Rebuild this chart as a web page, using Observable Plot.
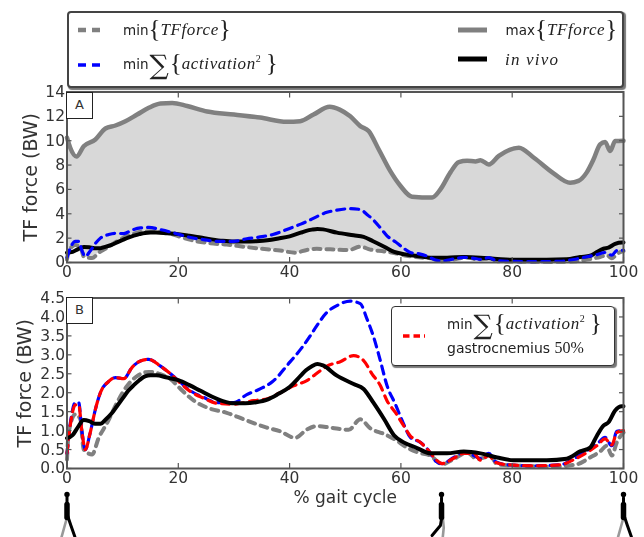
<!DOCTYPE html>
<html><head><meta charset="utf-8">
<script src="https://cdn.jsdelivr.net/npm/d3@7"></script>
<script src="https://cdn.jsdelivr.net/npm/@observablehq/plot@0.6"></script>
<style>
html,body{margin:0;padding:0;background:#fff;}
#page{position:relative;width:644px;height:537px;overflow:hidden;font-family:"DejaVu Sans",sans-serif;color:#333;filter:blur(0.55px);}
.box{position:absolute;background:#fff;box-sizing:border-box;}
.panel{position:absolute;left:66px;width:27px;height:27px;border:1.5px solid #222;background:#fff;box-sizing:border-box;text-align:center;font-size:13px;line-height:24px;}
.t{position:absolute;white-space:nowrap;font-size:13.5px;color:#222;}
.m{font-family:"Liberation Serif",serif;font-style:italic;font-size:17px;letter-spacing:.6px;}
.br{font-family:"Liberation Serif",serif;font-size:25px;font-weight:200;vertical-align:-2px;}
.sum{font-family:"DejaVu Serif",serif;font-size:27px;vertical-align:-5px;padding:0 1px;}
sup{font-size:10px;line-height:0;font-family:"Liberation Serif",serif;font-style:normal;}
</style></head><body><div id="page"></div>
<script>
const maxForce=[[0,10.25],[0.6,9.4],[1.7,8.7],[3,9.55],[5.1,10.1],[6.9,11],[8.7,11.25],[10.5,11.6],[12.6,12.15],[14.7,12.7],[16.8,13.05],[18.9,13.1],[21.6,12.85],[25.2,12.4],[30,12.15],[34.7,11.9],[39.5,11.55],[41.9,11.6],[44.3,12.15],[47.2,12.78],[49,12.55],[50.9,12],[52.7,11.2],[54.2,10.8],[56,9.3],[58.1,7.5],[59.9,6.3],[62,5.4],[65.6,5.33],[67.1,6],[68.9,7.4],[70.4,8.25],[71.9,8.36],[73.4,8.3],[74.3,8.4],[75.8,8.05],[77.6,8.75],[81.2,9.43],[83.9,8.6],[87.5,7.3],[90.4,6.55],[91.9,6.7],[93.4,7.4],[94.6,8.45],[95.8,9.7],[96.7,9.9],[97.6,9.15],[98.5,9.97],[100,10]];
const minForce=[[0,0.24],[0.3,0.95],[1.5,1.43],[2.4,1.3],[3,0.5],[4.5,0.37],[5.7,0.81],[7.2,1.2],[9,1.74],[10.8,2.18],[12.6,2.44],[14.7,2.55],[16.8,2.49],[18.6,2.36],[20.4,2.1],[22.8,1.79],[25.7,1.58],[28.7,1.47],[31.7,1.3],[35.9,1.08],[38.3,0.98],[41,0.81],[43.1,1.03],[44.9,1.12],[47.3,1.08],[50.6,1.02],[52.7,1.3],[54.5,1.06],[57,0.91],[59,0.76],[61,0.56],[63.2,0.42],[65.3,0.34],[67.4,0.11],[69.5,0.25],[71.9,0.42],[73.7,0.25],[76.1,0.32],[77.3,0.11],[81.5,0.07],[87.5,0.05],[91.6,0.11],[94,0.29],[95.8,0.45],[97,0.6],[97.9,0.34],[98.8,0.69],[100,0.95]];
const minActivation=[[0,0.4],[0.6,1.2],[1.5,1.74],[2.1,1.74],[2.7,0.95],[3.3,0.5],[4.1,0.9],[5.1,1.56],[6,2],[7.5,2.3],[8.7,2.4],[10.2,2.37],[11.7,2.67],[13.2,2.84],[14.7,2.88],[16.8,2.7],[18.6,2.5],[20.4,2.27],[22.2,2.05],[24.5,1.88],[27,1.74],[30,1.74],[32.3,1.95],[34.7,2.1],[37,2.3],[40,2.8],[42,3.15],[43.7,3.5],[44.9,3.77],[46.7,4.12],[48.5,4.3],[50.9,4.42],[52.7,4.35],[53.9,3.95],[55.1,3.47],[56.3,2.85],[57.5,2.19],[59,1.7],[60.5,1.17],[61.7,0.82],[63.5,0.69],[65,0.47],[66.2,0.2],[67.4,0.13],[69.5,0.29],[71.3,0.42],[73.1,0.34],[74.3,0.26],[75.8,0.4],[77,0.18],[79,0.1],[83.9,0.07],[88.7,0.1],[91,0.25],[93.4,0.47],[95.2,0.64],[96.7,0.82],[97.9,0.6],[98.8,0.98],[100,1]];
const minGastroc=[[0,0.4],[0.6,1.15],[1.5,1.68],[2.1,1.68],[2.7,0.95],[3.3,0.5],[4.1,0.9],[5.1,1.56],[6,2],[7.5,2.3],[8.7,2.4],[10.2,2.37],[11.7,2.67],[13.2,2.84],[14.7,2.88],[16.8,2.7],[18.6,2.5],[20.4,2.25],[22.2,2.03],[24.5,1.86],[27,1.72],[30,1.7],[33.5,1.79],[36,1.84],[38.3,2],[40.7,2.18],[43.1,2.32],[45.5,2.58],[46.7,2.7],[49.1,2.82],[51.5,2.98],[53.3,2.85],[54.8,2.5],[56.3,2.19],[57.5,1.79],[59,1.48],[60.5,1.13],[61.7,0.86],[63.5,0.69],[65,0.47],[66.2,0.25],[67.4,0.13],[69.5,0.27],[71.3,0.4],[73.1,0.4],[74.3,0.22],[75.8,0.34],[77,0.16],[79,0.1],[83.9,0.07],[88.7,0.1],[91,0.23],[93.4,0.42],[95.2,0.6],[96.7,0.78],[97.9,0.62],[98.8,0.95],[100,1]];
const inVivo=[[0,0.8],[1,0.88],[2,1.1],[3,1.28],[4,1.25],[5,1.18],[6,1.18],[7,1.3],[8,1.45],[9,1.65],[10,1.85],[11,2.05],[12,2.2],[13,2.33],[14,2.43],[15,2.46],[16,2.46],[18,2.4],[20,2.33],[22,2.2],[24,2.05],[26,1.9],[28,1.78],[30,1.72],[32,1.72],[34,1.75],[36,1.82],[38,1.97],[40,2.15],[42,2.45],[43,2.6],[44,2.7],[45,2.76],[46,2.72],[48.5,2.45],[51.5,2.23],[53.3,2.1],[55,1.75],[57,1.3],[58.8,0.87],[60.5,0.69],[62.9,0.54],[65.3,0.4],[68.3,0.4],[71.3,0.45],[74.3,0.4],[77.3,0.29],[80.2,0.22],[86.2,0.22],[89.8,0.26],[92.2,0.45],[94,0.55],[95.2,0.86],[96.4,1.13],[97.3,1.22],[98.5,1.53],[99.7,1.64],[100,1.64]];
const ticksX=[0,20,40,60,80,100];
const ticksA=[0,2,4,6,8,10,12,14];
const ticksB=[0,0.5,1,1.5,2,2.5,3,3.5,4,4.5];
const C={max:"#808080",black:"#000",blue:"#0000ff",red:"#ff0000",fill:"#d8d8d8",frame:"#555",text:"#333"};
function axes(yt,ylabel,xlab,labelDx){
  return [
    Plot.axisX({ticks:ticksX,tickSize:-5,tickPadding:8,stroke:C.frame,strokeWidth:1.2,fill:C.text,label:null}),
    Plot.axisX({anchor:"top",ticks:ticksX,tickSize:-5,stroke:C.frame,strokeWidth:1.2,label:null,tickFormat:()=>""}),
    Plot.axisY({ticks:yt,tickSize:-5,tickPadding:7,stroke:C.frame,strokeWidth:1.2,fill:C.text,label:null,tickFormat:yt===ticksB?(d=>d.toFixed(1)):(d=>d)}),
    Plot.axisY({anchor:"right",ticks:yt,tickSize:-5,stroke:C.frame,strokeWidth:1.2,label:null,tickFormat:()=>""}),
    Plot.frame({stroke:C.frame,strokeWidth:2}),
    Plot.text([ylabel],{text:d=>d,frameAnchor:"left",rotate:-90,dx:labelDx,fontSize:19,fill:C.text,lineAnchor:"middle",textAnchor:"middle"}),
    ...(xlab?[Plot.text([xlab],{text:d=>d,frameAnchor:"bottom",dy:29,fontSize:17,fill:C.text,lineAnchor:"middle"})]:[])
  ];
}
const crv="monotone-x";
const ln=(d,stroke,w,dash)=>Plot.line(d,{x:"0",y:"1",stroke,strokeWidth:w,strokeDasharray:dash,strokeLinejoin:"round",curve:crv});
const page=document.getElementById("page");
const place=(svg,top)=>{svg.style.position="absolute";svg.style.left="0";svg.style.top=top+"px";page.append(svg);};
const base={width:644,marginLeft:66.5,marginRight:21,style:{background:"transparent",fontFamily:"DejaVu Sans",fontSize:"15.5px",overflow:"visible"},x:{domain:[0,100]}};
const pA=Plot.plot({...base,height:290,marginTop:91.5,marginBottom:28,y:{domain:[0,14]},
  marks:[
    Plot.areaY(maxForce,{x:"0",y:"1",fill:C.fill,curve:crv}),
    Plot.areaY(minForce,{x:"0",y:"1",fill:"#fff",curve:crv}),
    ln(maxForce,C.max,4.5),
    ln(minForce,C.max,4,"7 6"),
    ln(inVivo,C.black,4),
    ln(minActivation,C.blue,3.2,"8 6"),
    ...axes(ticksA,"TF force (BW)",null,-36.5)
  ]});
place(pA,0);
const pB=Plot.plot({...base,height:267,marginTop:27.5,marginBottom:69,y:{domain:[0,4.5]},
  marks:[
    ln(minForce,C.max,4,"7 6"),
    ln(minActivation,C.blue,3.2,"8 6"),
    ln(minGastroc,C.red,3.2,"8 6"),
    ln(inVivo,C.black,4),
    ...axes(ticksB,"TF force (BW)","% gait cycle",-42.5)
  ]});
place(pB,270);
// walkers
const stanceAt=[0,100], swingAt=[67.3];
const stanceBlack=[[0.1,22],[0.7,12],[1.4,1]], stanceGray=[[0,20],[-0.5,10],[-1,0]];
const swingBlack=[[0.1,22],[-0.2,12],[-1.7,2]], swingGray=[[0.2,22],[0.4,10],[0.2,-1]];
const neck=[[0,40],[0,33]], torso=[[0,33],[0,20]], heads=[...stanceAt,...swingAt];
const lim=(pose,at)=>at.flatMap(a=>pose.map(p=>({x:a+p[0],y:p[1],k:a})));
const pW=Plot.plot({width:644,height:46,marginLeft:66.5,marginRight:21,marginTop:0,marginBottom:0,
  style:{background:"transparent",overflow:"visible"},
  x:{domain:[0,100],axis:null},y:{domain:[0,46],axis:null},
  marks:[
    Plot.line(lim(stanceGray,stanceAt),{x:"x",y:"y",z:"k",stroke:"#999",strokeWidth:2.6}),
    Plot.line(lim(swingGray,swingAt),{x:"x",y:"y",z:"k",stroke:"#999",strokeWidth:2.6}),
    Plot.line(lim(neck,heads),{x:"x",y:"y",z:"k",stroke:"#000",strokeWidth:3}),
    Plot.line(lim(torso,heads),{x:"x",y:"y",z:"k",stroke:"#000",strokeWidth:5.5}),
    Plot.line(lim(stanceBlack,stanceAt),{x:"x",y:"y",z:"k",stroke:"#000",strokeWidth:3}),
    Plot.line(lim(swingBlack,swingAt),{x:"x",y:"y",z:"k",stroke:"#000",strokeWidth:3}),
    Plot.dot(heads,{x:d=>d,y:()=>43,r:2.7,fill:"#000"})
  ]});
place(pW,491);
// legends & panel letters
page.insertAdjacentHTML("beforeend",`
<div class="box" style="left:67px;top:11px;width:557px;height:77px;border:2px solid #444;border-radius:4px;box-shadow:1.5px 1.5px 1px #777"></div>
<svg style="position:absolute;left:0;top:0;pointer-events:none" width="644" height="90">
<line x1="78" x2="100" y1="30" y2="30" stroke="#808080" stroke-width="4.5" stroke-dasharray="8 6"/>
<line x1="78" x2="100" y1="65" y2="65" stroke="#0000ff" stroke-width="3.5" stroke-dasharray="8 6"/>
<line x1="458" x2="487" y1="30" y2="30" stroke="#808080" stroke-width="5"/>
<line x1="458" x2="487" y1="59" y2="59" stroke="#000" stroke-width="5"/>
</svg>
<div class="t" style="left:123px;top:15px">min<span class="br">{</span><span class="m">TFforce</span><span class="br">}</span></div>
<div class="t" style="left:123px;top:49px">min<span class="sum">∑</span><span class="br">{</span><span class="m">activation<sup>2</sup></span> <span class="br">}</span></div>
<div class="t" style="left:505.5px;top:15px">max<span class="br">{</span><span class="m">TFforce</span><span class="br">}</span></div>
<div class="t m" style="left:505px;top:50px;font-size:17px;letter-spacing:1.2px">in vivo</div>
<div class="panel" style="top:92px">A</div>
<div class="panel" style="top:297px">B</div>
<div class="box" style="left:391px;top:306px;width:224px;height:60px;border:1.5px solid #333;border-radius:4px;box-shadow:1.5px 1.5px 1px #777"></div>
<svg style="position:absolute;left:402px;top:330px" width="26" height="12"><line x1="1" x2="23" y1="6" y2="6" stroke="#ff0000" stroke-width="3.5" stroke-dasharray="6.5 4"/></svg>
<div class="t" style="left:447px;top:309px">min<span class="sum">∑</span><span class="br">{</span><span class="m">activation<sup>2</sup></span> <span class="br">}</span></div>
<div class="t" style="left:447px;top:339px;font-size:14px">gastrocnemius <span style="font-family:'Liberation Serif',serif;font-size:16px">50%</span></div>
`);
</script></body></html>
